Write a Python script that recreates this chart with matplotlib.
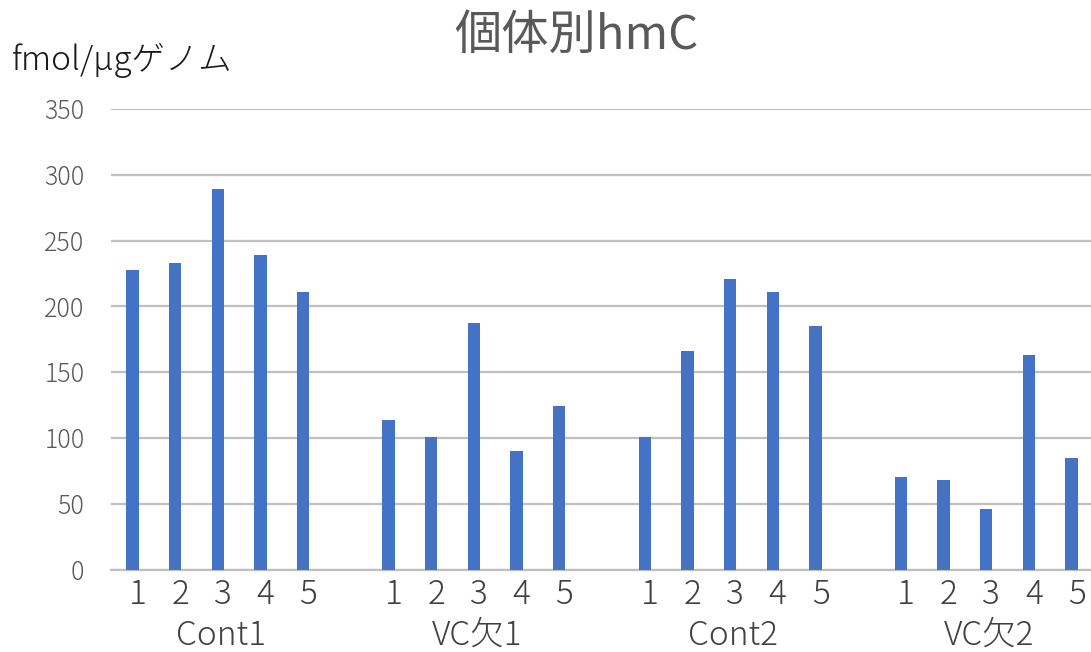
import matplotlib
matplotlib.use("Agg")
import matplotlib.pyplot as plt
from matplotlib.transforms import ScaledTranslation

plt.rcParams['font.family'] = ['Noto Sans CJK JP', 'DejaVu Sans']

title = "個体別hmC"
y_label = "fmol/μgゲノム"
groups = ["Cont1", "VC欠1", "Cont2", "VC欠2"]
individuals = ["1", "2", "3", "4", "5"]
cont1 = [228, 233, 289, 239, 211]
vc1 = [114, 101, 187, 90, 124]
cont2 = [101, 166, 221, 211, 185]
vc2 = [70, 68, 46, 163, 85]
y_ticks = [0, 50, 100, 150, 200, 250, 300, 350]

series = [cont1, vc1, cont2, vc2]

BAR = "#4472C4"
GRID = "#BFBFBF"
TXT = "#595959"
DARK = "#404040"

fig = plt.figure(figsize=(10.91, 6.52), dpi=100)
ax = fig.add_axes([111 / 1091, 1 - 569.5 / 652, 982 / 1091, 460.5 / 652])

# each group occupies 5 slots followed by an empty slot
slot = 0
xs, heights, labels, group_centers = [], [], [], []
for vals in series:
    start = slot
    for lab, v in zip(individuals, vals):
        xs.append(slot)
        heights.append(v)
        labels.append(lab)
        slot += 1
    group_centers.append((start + slot - 1) / 2)
    slot += 1

ax.bar(xs, heights, width=0.29, color=BAR, zorder=3)

ax.set_xlim(-0.5, 22.5)
ax.set_ylim(0, 350)
ax.set_yticks(y_ticks)
ax.set_yticklabels([str(t) for t in y_ticks], fontsize=18, color=TXT,
                   fontweight="light")
ax.tick_params(axis='y', length=0, pad=19)
ax.yaxis.grid(True, color=GRID, linewidth=1.6, zorder=0)

ax.set_xticks(xs)
ax.set_xticklabels(labels, fontsize=24, color=DARK, fontweight="light")
ax.tick_params(axis='x', length=0, pad=6)
shift = ScaledTranslation(5 / 100, 0, fig.dpi_scale_trans)
for t in ax.get_xticklabels():
    t.set_transform(t.get_transform() + shift)

for sp in ["top", "right", "left"]:
    ax.spines[sp].set_visible(False)
ax.spines["bottom"].set_color(GRID)
ax.spines["bottom"].set_linewidth(1.6)

group_shift = ScaledTranslation(3 / 100, 0, fig.dpi_scale_trans)
for gx, g in zip(group_centers, groups):
    ax.text(gx, -0.144, g, transform=ax.get_xaxis_transform() + group_shift,
            ha="center", va="center", fontsize=24, color=DARK,
            fontweight="light")

fig.text(576 / 1091, 1 - 36 / 652, title, ha="center", va="center",
         fontsize=34, color=TXT)
fig.text(12 / 1091, 1 - 60 / 652, y_label, ha="left", va="center",
         fontsize=24, color="#1a1a1a", fontweight="light")

fig.savefig("out.png", dpi=100)
